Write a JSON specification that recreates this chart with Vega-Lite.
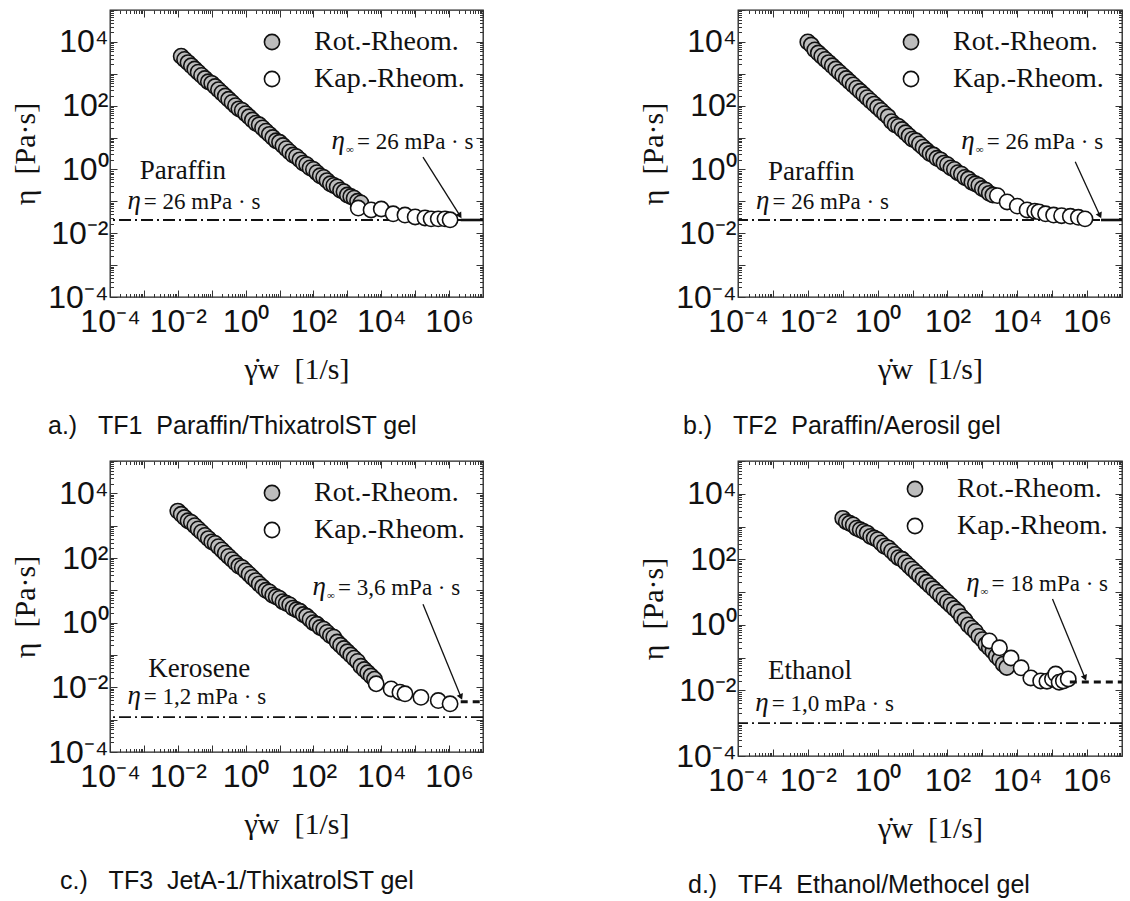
{
"$schema":"https://vega.github.io/schema/vega-lite/v6.json",
"background":"white",
"padding":{"left":10,"top":8,"right":0,"bottom":0},
"datasets":{
"pts":[
{"p":"a","m":"Rot.-Rheom.","x":0.0126,"y":3550},{"p":"a","m":"Rot.-Rheom.","x":0.0158,"y":2820},{"p":"a","m":"Rot.-Rheom.","x":0.02,"y":2240},{"p":"a","m":"Rot.-Rheom.","x":0.0251,"y":1780},{"p":"a","m":"Rot.-Rheom.","x":0.0316,"y":1410},{"p":"a","m":"Rot.-Rheom.","x":0.0398,"y":1120},{"p":"a","m":"Rot.-Rheom.","x":0.0501,"y":891},{"p":"a","m":"Rot.-Rheom.","x":0.0631,"y":708},{"p":"a","m":"Rot.-Rheom.","x":0.0794,"y":562},{"p":"a","m":"Rot.-Rheom.","x":0.1,"y":501},{"p":"a","m":"Rot.-Rheom.","x":0.126,"y":398},{"p":"a","m":"Rot.-Rheom.","x":0.158,"y":316},{"p":"a","m":"Rot.-Rheom.","x":0.2,"y":251},{"p":"a","m":"Rot.-Rheom.","x":0.251,"y":200},{"p":"a","m":"Rot.-Rheom.","x":0.316,"y":158},{"p":"a","m":"Rot.-Rheom.","x":0.398,"y":126},{"p":"a","m":"Rot.-Rheom.","x":0.501,"y":100},{"p":"a","m":"Rot.-Rheom.","x":0.631,"y":79.4},{"p":"a","m":"Rot.-Rheom.","x":0.794,"y":70.8},{"p":"a","m":"Rot.-Rheom.","x":1,"y":56.2},{"p":"a","m":"Rot.-Rheom.","x":1.26,"y":44.7},{"p":"a","m":"Rot.-Rheom.","x":1.58,"y":35.5},{"p":"a","m":"Rot.-Rheom.","x":2,"y":28.2},{"p":"a","m":"Rot.-Rheom.","x":2.51,"y":25.1},{"p":"a","m":"Rot.-Rheom.","x":3.16,"y":20},{"p":"a","m":"Rot.-Rheom.","x":3.98,"y":15.8},{"p":"a","m":"Rot.-Rheom.","x":5.01,"y":12.6},{"p":"a","m":"Rot.-Rheom.","x":6.31,"y":10},{"p":"a","m":"Rot.-Rheom.","x":7.94,"y":7.94},{"p":"a","m":"Rot.-Rheom.","x":10,"y":7.08},{"p":"a","m":"Rot.-Rheom.","x":12.6,"y":5.62},{"p":"a","m":"Rot.-Rheom.","x":15.8,"y":4.47},{"p":"a","m":"Rot.-Rheom.","x":20,"y":3.55},{"p":"a","m":"Rot.-Rheom.","x":25.1,"y":2.82},{"p":"a","m":"Rot.-Rheom.","x":31.6,"y":2.51},{"p":"a","m":"Rot.-Rheom.","x":39.8,"y":2},{"p":"a","m":"Rot.-Rheom.","x":50.1,"y":1.58},{"p":"a","m":"Rot.-Rheom.","x":63.1,"y":1.41},{"p":"a","m":"Rot.-Rheom.","x":79.4,"y":1.12},{"p":"a","m":"Rot.-Rheom.","x":100,"y":1},{"p":"a","m":"Rot.-Rheom.","x":126,"y":0.794},{"p":"a","m":"Rot.-Rheom.","x":158,"y":0.631},{"p":"a","m":"Rot.-Rheom.","x":200,"y":0.562},{"p":"a","m":"Rot.-Rheom.","x":251,"y":0.447},{"p":"a","m":"Rot.-Rheom.","x":316,"y":0.355},{"p":"a","m":"Rot.-Rheom.","x":398,"y":0.316},{"p":"a","m":"Rot.-Rheom.","x":501,"y":0.282},{"p":"a","m":"Rot.-Rheom.","x":631,"y":0.224},{"p":"a","m":"Rot.-Rheom.","x":794,"y":0.2},{"p":"a","m":"Rot.-Rheom.","x":1000,"y":0.158},{"p":"a","m":"Rot.-Rheom.","x":1260,"y":0.141},{"p":"a","m":"Rot.-Rheom.","x":1580,"y":0.126},{"p":"a","m":"Rot.-Rheom.","x":2000,"y":0.1},{"p":"a","m":"Rot.-Rheom.","x":2510,"y":0.0891},
{"p":"a","m":"Kap.-Rheom.","x":2090,"y":0.0617},{"p":"a","m":"Kap.-Rheom.","x":5010,"y":0.0537},{"p":"a","m":"Kap.-Rheom.","x":10000,"y":0.0575},{"p":"a","m":"Kap.-Rheom.","x":22400,"y":0.0407},{"p":"a","m":"Kap.-Rheom.","x":50100,"y":0.0372},{"p":"a","m":"Kap.-Rheom.","x":100000,"y":0.0324},{"p":"a","m":"Kap.-Rheom.","x":195000,"y":0.0302},{"p":"a","m":"Kap.-Rheom.","x":295000,"y":0.0282},{"p":"a","m":"Kap.-Rheom.","x":479000,"y":0.0282},{"p":"a","m":"Kap.-Rheom.","x":759000,"y":0.0282},{"p":"a","m":"Kap.-Rheom.","x":1070000,"y":0.0263},
{"p":"b","m":"Rot.-Rheom.","x":0.01,"y":10000},{"p":"b","m":"Rot.-Rheom.","x":0.0126,"y":7940},{"p":"b","m":"Rot.-Rheom.","x":0.0158,"y":5620},{"p":"b","m":"Rot.-Rheom.","x":0.02,"y":4470},{"p":"b","m":"Rot.-Rheom.","x":0.0251,"y":3550},{"p":"b","m":"Rot.-Rheom.","x":0.0316,"y":2820},{"p":"b","m":"Rot.-Rheom.","x":0.0398,"y":2240},{"p":"b","m":"Rot.-Rheom.","x":0.0501,"y":1780},{"p":"b","m":"Rot.-Rheom.","x":0.0631,"y":1410},{"p":"b","m":"Rot.-Rheom.","x":0.0794,"y":1120},{"p":"b","m":"Rot.-Rheom.","x":0.1,"y":891},{"p":"b","m":"Rot.-Rheom.","x":0.126,"y":708},{"p":"b","m":"Rot.-Rheom.","x":0.158,"y":562},{"p":"b","m":"Rot.-Rheom.","x":0.2,"y":447},{"p":"b","m":"Rot.-Rheom.","x":0.251,"y":355},{"p":"b","m":"Rot.-Rheom.","x":0.316,"y":282},{"p":"b","m":"Rot.-Rheom.","x":0.398,"y":224},{"p":"b","m":"Rot.-Rheom.","x":0.501,"y":178},{"p":"b","m":"Rot.-Rheom.","x":0.631,"y":141},{"p":"b","m":"Rot.-Rheom.","x":0.794,"y":112},{"p":"b","m":"Rot.-Rheom.","x":1,"y":89.1},{"p":"b","m":"Rot.-Rheom.","x":1.26,"y":70.8},{"p":"b","m":"Rot.-Rheom.","x":1.58,"y":56.2},{"p":"b","m":"Rot.-Rheom.","x":2,"y":44.7},{"p":"b","m":"Rot.-Rheom.","x":2.51,"y":31.6},{"p":"b","m":"Rot.-Rheom.","x":3.16,"y":25.1},{"p":"b","m":"Rot.-Rheom.","x":3.98,"y":22.4},{"p":"b","m":"Rot.-Rheom.","x":5.01,"y":17.8},{"p":"b","m":"Rot.-Rheom.","x":6.31,"y":14.1},{"p":"b","m":"Rot.-Rheom.","x":7.94,"y":11.2},{"p":"b","m":"Rot.-Rheom.","x":10,"y":8.91},{"p":"b","m":"Rot.-Rheom.","x":12.6,"y":7.94},{"p":"b","m":"Rot.-Rheom.","x":15.8,"y":6.31},{"p":"b","m":"Rot.-Rheom.","x":20,"y":5.01},{"p":"b","m":"Rot.-Rheom.","x":25.1,"y":3.98},{"p":"b","m":"Rot.-Rheom.","x":31.6,"y":3.16},{"p":"b","m":"Rot.-Rheom.","x":39.8,"y":2.82},{"p":"b","m":"Rot.-Rheom.","x":50.1,"y":2.24},{"p":"b","m":"Rot.-Rheom.","x":63.1,"y":2},{"p":"b","m":"Rot.-Rheom.","x":79.4,"y":1.58},{"p":"b","m":"Rot.-Rheom.","x":100,"y":1.41},{"p":"b","m":"Rot.-Rheom.","x":126,"y":1.12},{"p":"b","m":"Rot.-Rheom.","x":158,"y":1},{"p":"b","m":"Rot.-Rheom.","x":200,"y":0.794},{"p":"b","m":"Rot.-Rheom.","x":251,"y":0.708},{"p":"b","m":"Rot.-Rheom.","x":316,"y":0.562},{"p":"b","m":"Rot.-Rheom.","x":398,"y":0.501},{"p":"b","m":"Rot.-Rheom.","x":501,"y":0.398},{"p":"b","m":"Rot.-Rheom.","x":631,"y":0.355},{"p":"b","m":"Rot.-Rheom.","x":794,"y":0.316},{"p":"b","m":"Rot.-Rheom.","x":1000,"y":0.251},{"p":"b","m":"Rot.-Rheom.","x":1260,"y":0.224},{"p":"b","m":"Rot.-Rheom.","x":1580,"y":0.178},{"p":"b","m":"Rot.-Rheom.","x":2000,"y":0.158},
{"p":"b","m":"Kap.-Rheom.","x":2690,"y":0.151},{"p":"b","m":"Kap.-Rheom.","x":5130,"y":0.0955},{"p":"b","m":"Kap.-Rheom.","x":10000,"y":0.0708},{"p":"b","m":"Kap.-Rheom.","x":19100,"y":0.0537},{"p":"b","m":"Kap.-Rheom.","x":31600,"y":0.049},{"p":"b","m":"Kap.-Rheom.","x":41700,"y":0.0468},{"p":"b","m":"Kap.-Rheom.","x":64600,"y":0.0407},{"p":"b","m":"Kap.-Rheom.","x":110000,"y":0.0372},{"p":"b","m":"Kap.-Rheom.","x":186000,"y":0.0355},{"p":"b","m":"Kap.-Rheom.","x":331000,"y":0.0339},{"p":"b","m":"Kap.-Rheom.","x":562000,"y":0.0316},{"p":"b","m":"Kap.-Rheom.","x":871000,"y":0.0282},
{"p":"c","m":"Rot.-Rheom.","x":0.01,"y":2820},{"p":"c","m":"Rot.-Rheom.","x":0.0126,"y":2240},{"p":"c","m":"Rot.-Rheom.","x":0.0158,"y":1780},{"p":"c","m":"Rot.-Rheom.","x":0.02,"y":1410},{"p":"c","m":"Rot.-Rheom.","x":0.0251,"y":1260},{"p":"c","m":"Rot.-Rheom.","x":0.0316,"y":1000},{"p":"c","m":"Rot.-Rheom.","x":0.0398,"y":794},{"p":"c","m":"Rot.-Rheom.","x":0.0501,"y":631},{"p":"c","m":"Rot.-Rheom.","x":0.0631,"y":501},{"p":"c","m":"Rot.-Rheom.","x":0.0794,"y":398},{"p":"c","m":"Rot.-Rheom.","x":0.1,"y":316},{"p":"c","m":"Rot.-Rheom.","x":0.126,"y":282},{"p":"c","m":"Rot.-Rheom.","x":0.158,"y":224},{"p":"c","m":"Rot.-Rheom.","x":0.2,"y":178},{"p":"c","m":"Rot.-Rheom.","x":0.251,"y":141},{"p":"c","m":"Rot.-Rheom.","x":0.316,"y":112},{"p":"c","m":"Rot.-Rheom.","x":0.398,"y":89.1},{"p":"c","m":"Rot.-Rheom.","x":0.501,"y":70.8},{"p":"c","m":"Rot.-Rheom.","x":0.631,"y":56.2},{"p":"c","m":"Rot.-Rheom.","x":0.794,"y":50.1},{"p":"c","m":"Rot.-Rheom.","x":1,"y":39.8},{"p":"c","m":"Rot.-Rheom.","x":1.26,"y":31.6},{"p":"c","m":"Rot.-Rheom.","x":1.58,"y":25.1},{"p":"c","m":"Rot.-Rheom.","x":2,"y":20},{"p":"c","m":"Rot.-Rheom.","x":2.51,"y":15.8},{"p":"c","m":"Rot.-Rheom.","x":3.16,"y":12.6},{"p":"c","m":"Rot.-Rheom.","x":3.98,"y":10},{"p":"c","m":"Rot.-Rheom.","x":5.01,"y":8.91},{"p":"c","m":"Rot.-Rheom.","x":6.31,"y":7.08},{"p":"c","m":"Rot.-Rheom.","x":7.94,"y":6.31},{"p":"c","m":"Rot.-Rheom.","x":10,"y":5.62},{"p":"c","m":"Rot.-Rheom.","x":12.6,"y":4.47},{"p":"c","m":"Rot.-Rheom.","x":15.8,"y":3.98},{"p":"c","m":"Rot.-Rheom.","x":20,"y":3.55},{"p":"c","m":"Rot.-Rheom.","x":25.1,"y":2.82},{"p":"c","m":"Rot.-Rheom.","x":31.6,"y":2.51},{"p":"c","m":"Rot.-Rheom.","x":39.8,"y":2.24},{"p":"c","m":"Rot.-Rheom.","x":50.1,"y":1.78},{"p":"c","m":"Rot.-Rheom.","x":63.1,"y":1.58},{"p":"c","m":"Rot.-Rheom.","x":79.4,"y":1.26},{"p":"c","m":"Rot.-Rheom.","x":100,"y":1},{"p":"c","m":"Rot.-Rheom.","x":126,"y":0.891},{"p":"c","m":"Rot.-Rheom.","x":158,"y":0.708},{"p":"c","m":"Rot.-Rheom.","x":200,"y":0.631},{"p":"c","m":"Rot.-Rheom.","x":251,"y":0.501},{"p":"c","m":"Rot.-Rheom.","x":316,"y":0.398},{"p":"c","m":"Rot.-Rheom.","x":398,"y":0.355},{"p":"c","m":"Rot.-Rheom.","x":501,"y":0.251},{"p":"c","m":"Rot.-Rheom.","x":631,"y":0.2},{"p":"c","m":"Rot.-Rheom.","x":794,"y":0.158},{"p":"c","m":"Rot.-Rheom.","x":1000,"y":0.126},{"p":"c","m":"Rot.-Rheom.","x":1260,"y":0.1},{"p":"c","m":"Rot.-Rheom.","x":1580,"y":0.0794},{"p":"c","m":"Rot.-Rheom.","x":2000,"y":0.0631},{"p":"c","m":"Rot.-Rheom.","x":2510,"y":0.0447},{"p":"c","m":"Rot.-Rheom.","x":3160,"y":0.0355},{"p":"c","m":"Rot.-Rheom.","x":3980,"y":0.0282},{"p":"c","m":"Rot.-Rheom.","x":5010,"y":0.0224},{"p":"c","m":"Rot.-Rheom.","x":6310,"y":0.0178},
{"p":"c","m":"Kap.-Rheom.","x":7080,"y":0.0129},{"p":"c","m":"Kap.-Rheom.","x":19500,"y":0.00891},{"p":"c","m":"Kap.-Rheom.","x":35500,"y":0.00708},{"p":"c","m":"Kap.-Rheom.","x":50100,"y":0.00631},{"p":"c","m":"Kap.-Rheom.","x":148000,"y":0.0049},{"p":"c","m":"Kap.-Rheom.","x":479000,"y":0.00389},{"p":"c","m":"Kap.-Rheom.","x":1070000,"y":0.00309},
{"p":"d","m":"Rot.-Rheom.","x":0.1,"y":1780},{"p":"d","m":"Rot.-Rheom.","x":0.126,"y":1410},{"p":"d","m":"Rot.-Rheom.","x":0.158,"y":1260},{"p":"d","m":"Rot.-Rheom.","x":0.2,"y":1120},{"p":"d","m":"Rot.-Rheom.","x":0.251,"y":891},{"p":"d","m":"Rot.-Rheom.","x":0.316,"y":794},{"p":"d","m":"Rot.-Rheom.","x":0.398,"y":708},{"p":"d","m":"Rot.-Rheom.","x":0.501,"y":631},{"p":"d","m":"Rot.-Rheom.","x":0.631,"y":501},{"p":"d","m":"Rot.-Rheom.","x":0.794,"y":447},{"p":"d","m":"Rot.-Rheom.","x":1,"y":398},{"p":"d","m":"Rot.-Rheom.","x":1.26,"y":316},{"p":"d","m":"Rot.-Rheom.","x":1.58,"y":251},{"p":"d","m":"Rot.-Rheom.","x":2,"y":224},{"p":"d","m":"Rot.-Rheom.","x":2.51,"y":178},{"p":"d","m":"Rot.-Rheom.","x":3.16,"y":141},{"p":"d","m":"Rot.-Rheom.","x":3.98,"y":112},{"p":"d","m":"Rot.-Rheom.","x":5.01,"y":100},{"p":"d","m":"Rot.-Rheom.","x":6.31,"y":79.4},{"p":"d","m":"Rot.-Rheom.","x":7.94,"y":63.1},{"p":"d","m":"Rot.-Rheom.","x":10,"y":50.1},{"p":"d","m":"Rot.-Rheom.","x":12.6,"y":39.8},{"p":"d","m":"Rot.-Rheom.","x":15.8,"y":31.6},{"p":"d","m":"Rot.-Rheom.","x":20,"y":25.1},{"p":"d","m":"Rot.-Rheom.","x":25.1,"y":20},{"p":"d","m":"Rot.-Rheom.","x":31.6,"y":15.8},{"p":"d","m":"Rot.-Rheom.","x":39.8,"y":12.6},{"p":"d","m":"Rot.-Rheom.","x":50.1,"y":10},{"p":"d","m":"Rot.-Rheom.","x":63.1,"y":7.94},{"p":"d","m":"Rot.-Rheom.","x":79.4,"y":6.31},{"p":"d","m":"Rot.-Rheom.","x":100,"y":5.01},{"p":"d","m":"Rot.-Rheom.","x":126,"y":3.98},{"p":"d","m":"Rot.-Rheom.","x":158,"y":3.16},{"p":"d","m":"Rot.-Rheom.","x":200,"y":2.51},{"p":"d","m":"Rot.-Rheom.","x":251,"y":1.78},{"p":"d","m":"Rot.-Rheom.","x":316,"y":1.41},{"p":"d","m":"Rot.-Rheom.","x":398,"y":1},{"p":"d","m":"Rot.-Rheom.","x":501,"y":0.794},{"p":"d","m":"Rot.-Rheom.","x":631,"y":0.631},{"p":"d","m":"Rot.-Rheom.","x":794,"y":0.447},{"p":"d","m":"Rot.-Rheom.","x":1000,"y":0.355},{"p":"d","m":"Rot.-Rheom.","x":1260,"y":0.251},{"p":"d","m":"Rot.-Rheom.","x":1580,"y":0.2},{"p":"d","m":"Rot.-Rheom.","x":2000,"y":0.158},{"p":"d","m":"Rot.-Rheom.","x":2510,"y":0.112},{"p":"d","m":"Rot.-Rheom.","x":3160,"y":0.0891},{"p":"d","m":"Rot.-Rheom.","x":3980,"y":0.0631},{"p":"d","m":"Rot.-Rheom.","x":5010,"y":0.0501},
{"p":"d","m":"Kap.-Rheom.","x":1580,"y":0.324},{"p":"d","m":"Kap.-Rheom.","x":3090,"y":0.2},{"p":"d","m":"Kap.-Rheom.","x":6610,"y":0.0977},{"p":"d","m":"Kap.-Rheom.","x":12900,"y":0.049},{"p":"d","m":"Kap.-Rheom.","x":24500,"y":0.024},{"p":"d","m":"Kap.-Rheom.","x":46800,"y":0.0195},{"p":"d","m":"Kap.-Rheom.","x":70800,"y":0.0191},{"p":"d","m":"Kap.-Rheom.","x":102000,"y":0.0224},{"p":"d","m":"Kap.-Rheom.","x":126000,"y":0.0316},{"p":"d","m":"Kap.-Rheom.","x":158000,"y":0.0178},{"p":"d","m":"Kap.-Rheom.","x":209000,"y":0.0195},{"p":"d","m":"Kap.-Rheom.","x":288000,"y":0.0224}
],
"ref":[{"p":"a","eta":0.026},{"p":"b","eta":0.026},{"p":"c","eta":0.0012},{"p":"d","eta":0.001}],
"inf":[{"p":"a","x":2200000,"x2":10000000,"eta":0.026},{"p":"b","x":2500000,"x2":10000000,"eta":0.026},{"p":"c","x":2200000,"x2":10000000,"eta":0.0036},{"p":"d","x":320000,"x2":10000000,"eta":0.018}],
"arr":[{"p":"a","x":170000,"y":2.45,"x2":2090000,"y2":0.0355},{"p":"b","x":457000,"y":1.74,"x2":2340000,"y2":0.0355},{"p":"c","x":170000,"y":3.72,"x2":2240000,"y2":0.00501},{"p":"d","x":102000,"y":6.17,"x2":871000,"y2":0.024}],
"ann":[
{"p":"a","k":"name","x":0.0141,"y":0.501,"t":"Paraffin"},{"p":"a","k":"eta","x":0.000813,"y":0.0575,"t":"= 26 mPa · s"},{"p":"a","k":"inf","x":851,"y":4.37,"t":"= 26 mPa · s"},
{"p":"b","k":"name","x":0.0126,"y":0.468,"t":"Paraffin"},{"p":"b","k":"eta","x":0.000794,"y":0.0575,"t":"= 26 mPa · s"},{"p":"b","k":"inf","x":603,"y":4.37,"t":"= 26 mPa · s"},
{"p":"c","k":"name","x":0.0427,"y":0.0204,"t":"Kerosene"},{"p":"c","k":"eta","x":0.000813,"y":0.00302,"t":"= 1,2 mPa · s"},{"p":"c","k":"inf","x":234,"y":7.08,"t":"= 3,6 mPa · s"},
{"p":"d","k":"name","x":0.0115,"y":0.0224,"t":"Ethanol"},{"p":"d","k":"eta","x":0.000759,"y":0.0024,"t":"= 1,0 mPa · s"},{"p":"d","k":"inf","x":832,"y":11,"t":"= 18 mPa · s"}
]
},
"columns":2,
"spacing":{"row":164,"column":255},
"bounds":"flush",
"align":"each",
"resolve":{"scale":{"fill":"independent"},"legend":{"fill":"independent"}},
"concat":[
{"width":373,"height":287,
"title":{"text":"a.)\u00a0\u00a0\u00a0TF1\u00a0\u00a0Paraffin/ThixatrolST gel","orient":"bottom","anchor":"start","frame":"group","dx":-62,"offset":30,"font":"Liberation Sans, sans-serif","fontSize":25,"fontWeight":"normal","color":"#111"},
"resolve":{"axis":{"x":"independent","y":"independent"}},
"layer":[
{"data":{"name":"ref"},"transform":[{"filter":"datum.p == 'a'"}],"mark":{"type":"rule","strokeDash":[12,4,2,4],"strokeWidth":1.8,"color":"#111"},"encoding":{"y":{"field":"eta","type":"quantitative","scale":{"type":"log","domain":[0.0001,100000],"nice":false},"axis":{"orient":"left","values":[0.0001,0.0002,0.0003,0.0004,0.0005,0.0006,0.0007,0.0008,0.0009,0.001,0.002,0.003,0.004,0.005,0.006,0.007,0.008,0.009,0.01,0.02,0.03,0.04,0.05,0.06,0.07,0.08,0.09,0.1,0.2,0.3,0.4,0.5,0.6,0.7,0.8,0.9,1,2,3,4,5,6,7,8,9,10,20,30,40,50,60,70,80,90,100,200,300,400,500,600,700,800,900,1000,2000,3000,4000,5000,6000,7000,8000,9000,10000,20000,30000,40000,50000,60000,70000,80000,90000,100000],"labelExpr":"datum.value == 0.0001 ? '10⁻⁴' : datum.value == 0.01 ? '10⁻²' : datum.value == 1 ? '10⁰' : datum.value == 100 ? '10²' : datum.value == 10000 ? '10⁴' : datum.value == 1000000 ? '10⁶' : ''","labelFontSize":{"condition":{"test":"datum.value == 0.0001 || datum.value == 0.01 || datum.value == 1 || datum.value == 100 || datum.value == 10000 || datum.value == 1000000","value":32},"value":1},"tickSize":{"condition":{"test":"abs(log(datum.value)/LN10 - round(log(datum.value)/LN10)) < 0.001","value":-7},"value":-3.5},"labelPadding":9,"title":"η\u00a0\u00a0[Pa·s]","titlePadding":7}}}},
{"data":{"name":"pts"},"transform":[{"filter":"datum.p == 'a'"}],"mark":{"type":"point","filled":true,"stroke":"#111","strokeWidth":1.6,"size":235,"opacity":1},"encoding":{"x":{"field":"x","type":"quantitative","scale":{"type":"log","domain":[0.0001,10000000],"nice":false},"axis":{"orient":"bottom","values":[0.0001,0.0002,0.0003,0.0004,0.0005,0.0006,0.0007,0.0008,0.0009,0.001,0.002,0.003,0.004,0.005,0.006,0.007,0.008,0.009,0.01,0.02,0.03,0.04,0.05,0.06,0.07,0.08,0.09,0.1,0.2,0.3,0.4,0.5,0.6,0.7,0.8,0.9,1,2,3,4,5,6,7,8,9,10,20,30,40,50,60,70,80,90,100,200,300,400,500,600,700,800,900,1000,2000,3000,4000,5000,6000,7000,8000,9000,10000,20000,30000,40000,50000,60000,70000,80000,90000,100000,200000,300000,400000,500000,600000,700000,800000,900000,1000000,2000000,3000000,4000000,5000000,6000000,7000000,8000000,9000000,10000000],"labelExpr":"datum.value == 0.0001 ? '10⁻⁴' : datum.value == 0.01 ? '10⁻²' : datum.value == 1 ? '10⁰' : datum.value == 100 ? '10²' : datum.value == 10000 ? '10⁴' : datum.value == 1000000 ? '10⁶' : ''","labelFontSize":{"condition":{"test":"datum.value == 0.0001 || datum.value == 0.01 || datum.value == 1 || datum.value == 100 || datum.value == 10000 || datum.value == 1000000","value":32},"value":1},"tickSize":{"condition":{"test":"abs(log(datum.value)/LN10 - round(log(datum.value)/LN10)) < 0.001","value":-7},"value":-3.5},"labelPadding":16,"title":"γ\u0307w\u00a0\u00a0[1/s]","titlePadding":17}},"y":{"field":"y","type":"quantitative","scale":{"type":"log","domain":[0.0001,100000],"nice":false},"axis":null},"fill":{"field":"m","type":"nominal","scale":{"domain":["Rot.-Rheom.","Kap.-Rheom."],"range":["#bdbdbd","#ffffff"]},"legend":{"orient":"top-right","offset":18}}}},
{"data":{"name":"inf"},"transform":[{"filter":"datum.p == 'a'"}],"mark":{"type":"rule","strokeWidth":2.6,"color":"#111"},"encoding":{"x":{"field":"x","type":"quantitative","scale":{"type":"log","domain":[0.0001,10000000],"nice":false},"axis":{"orient":"top","values":[0.0001,0.0002,0.0003,0.0004,0.0005,0.0006,0.0007,0.0008,0.0009,0.001,0.002,0.003,0.004,0.005,0.006,0.007,0.008,0.009,0.01,0.02,0.03,0.04,0.05,0.06,0.07,0.08,0.09,0.1,0.2,0.3,0.4,0.5,0.6,0.7,0.8,0.9,1,2,3,4,5,6,7,8,9,10,20,30,40,50,60,70,80,90,100,200,300,400,500,600,700,800,900,1000,2000,3000,4000,5000,6000,7000,8000,9000,10000,20000,30000,40000,50000,60000,70000,80000,90000,100000,200000,300000,400000,500000,600000,700000,800000,900000,1000000,2000000,3000000,4000000,5000000,6000000,7000000,8000000,9000000,10000000],"labels":false,"tickSize":{"condition":{"test":"abs(log(datum.value)/LN10 - round(log(datum.value)/LN10)) < 0.001","value":-7},"value":-3.5},"title":null}},"x2":{"field":"x2"},"y":{"field":"eta","type":"quantitative","scale":{"type":"log","domain":[0.0001,100000],"nice":false},"axis":null}}},
{"data":{"name":"arr"},"transform":[{"filter":"datum.p == 'a'"}],"mark":{"type":"rule","strokeWidth":1.3,"color":"#111"},"encoding":{"x":{"field":"x","type":"quantitative","scale":{"type":"log","domain":[0.0001,10000000],"nice":false},"axis":null},"x2":{"field":"x2"},"y":{"field":"y","type":"quantitative","scale":{"type":"log","domain":[0.0001,100000],"nice":false},"axis":{"orient":"right","values":[0.0001,0.0002,0.0003,0.0004,0.0005,0.0006,0.0007,0.0008,0.0009,0.001,0.002,0.003,0.004,0.005,0.006,0.007,0.008,0.009,0.01,0.02,0.03,0.04,0.05,0.06,0.07,0.08,0.09,0.1,0.2,0.3,0.4,0.5,0.6,0.7,0.8,0.9,1,2,3,4,5,6,7,8,9,10,20,30,40,50,60,70,80,90,100,200,300,400,500,600,700,800,900,1000,2000,3000,4000,5000,6000,7000,8000,9000,10000,20000,30000,40000,50000,60000,70000,80000,90000,100000],"labels":false,"tickSize":{"condition":{"test":"abs(log(datum.value)/LN10 - round(log(datum.value)/LN10)) < 0.001","value":-7},"value":-3.5},"title":null}},"y2":{"field":"y2"}}},
{"data":{"name":"arr"},"transform":[{"filter":"datum.p == 'a'"}],"mark":{"type":"point","shape":"triangle-down","filled":true,"color":"#111","size":45,"angle":327.5,"opacity":1},"encoding":{"x":{"field":"x2","type":"quantitative","scale":{"type":"log","domain":[0.0001,10000000],"nice":false},"axis":null},"y":{"field":"y2","type":"quantitative","scale":{"type":"log","domain":[0.0001,100000],"nice":false},"axis":null}}},
{"data":{"name":"ann"},"transform":[{"filter":"datum.p == 'a' && datum.k == 'name'"}],"mark":{"type":"text","font":"Liberation Serif","fontSize":27,"align":"center","baseline":"alphabetic","color":"#111"},"encoding":{"x":{"field":"x","type":"quantitative","scale":{"type":"log","domain":[0.0001,10000000],"nice":false},"axis":null},"y":{"field":"y","type":"quantitative","scale":{"type":"log","domain":[0.0001,100000],"nice":false},"axis":null},"text":{"field":"t"}}},
{"data":{"name":"ann"},"transform":[{"filter":"datum.p == 'a' && datum.k != 'name'"}],"mark":{"type":"text","text":"η","font":"Liberation Serif","fontStyle":"italic","fontSize":27,"align":"right","baseline":"alphabetic","color":"#111"},"encoding":{"x":{"field":"x","type":"quantitative","scale":{"type":"log","domain":[0.0001,10000000],"nice":false},"axis":null},"y":{"field":"y","type":"quantitative","scale":{"type":"log","domain":[0.0001,100000],"nice":false},"axis":null}}},
{"data":{"name":"ann"},"transform":[{"filter":"datum.p == 'a' && datum.k == 'inf'"}],"mark":{"type":"text","text":"∞","font":"Liberation Serif","fontSize":11,"align":"left","baseline":"alphabetic","dx":1,"dy":4,"color":"#111"},"encoding":{"x":{"field":"x","type":"quantitative","scale":{"type":"log","domain":[0.0001,10000000],"nice":false},"axis":null},"y":{"field":"y","type":"quantitative","scale":{"type":"log","domain":[0.0001,100000],"nice":false},"axis":null}}},
{"data":{"name":"ann"},"transform":[{"filter":"datum.p == 'a' && datum.k == 'inf'"}],"mark":{"type":"text","font":"Liberation Serif","fontSize":23,"align":"left","baseline":"alphabetic","dx":12,"color":"#111"},"encoding":{"x":{"field":"x","type":"quantitative","scale":{"type":"log","domain":[0.0001,10000000],"nice":false},"axis":null},"y":{"field":"y","type":"quantitative","scale":{"type":"log","domain":[0.0001,100000],"nice":false},"axis":null},"text":{"field":"t"}}},
{"data":{"name":"ann"},"transform":[{"filter":"datum.p == 'a' && datum.k == 'eta'"}],"mark":{"type":"text","font":"Liberation Serif","fontSize":23,"align":"left","baseline":"alphabetic","dx":3,"color":"#111"},"encoding":{"x":{"field":"x","type":"quantitative","scale":{"type":"log","domain":[0.0001,10000000],"nice":false},"axis":null},"y":{"field":"y","type":"quantitative","scale":{"type":"log","domain":[0.0001,100000],"nice":false},"axis":null},"text":{"field":"t"}}}
]},
{"width":384,"height":287,
"title":{"text":"b.)\u00a0\u00a0\u00a0TF2\u00a0\u00a0Paraffin/Aerosil gel","orient":"bottom","anchor":"start","frame":"group","dx":-55,"offset":30,"font":"Liberation Sans, sans-serif","fontSize":25,"fontWeight":"normal","color":"#111"},
"resolve":{"axis":{"x":"independent","y":"independent"}},
"layer":[
{"data":{"name":"ref"},"transform":[{"filter":"datum.p == 'b'"}],"mark":{"type":"rule","strokeDash":[12,4,2,4],"strokeWidth":1.8,"color":"#111"},"encoding":{"y":{"field":"eta","type":"quantitative","scale":{"type":"log","domain":[0.0001,100000],"nice":false},"axis":{"orient":"left","values":[0.0001,0.0002,0.0003,0.0004,0.0005,0.0006,0.0007,0.0008,0.0009,0.001,0.002,0.003,0.004,0.005,0.006,0.007,0.008,0.009,0.01,0.02,0.03,0.04,0.05,0.06,0.07,0.08,0.09,0.1,0.2,0.3,0.4,0.5,0.6,0.7,0.8,0.9,1,2,3,4,5,6,7,8,9,10,20,30,40,50,60,70,80,90,100,200,300,400,500,600,700,800,900,1000,2000,3000,4000,5000,6000,7000,8000,9000,10000,20000,30000,40000,50000,60000,70000,80000,90000,100000],"labelExpr":"datum.value == 0.0001 ? '10⁻⁴' : datum.value == 0.01 ? '10⁻²' : datum.value == 1 ? '10⁰' : datum.value == 100 ? '10²' : datum.value == 10000 ? '10⁴' : datum.value == 1000000 ? '10⁶' : ''","labelFontSize":{"condition":{"test":"datum.value == 0.0001 || datum.value == 0.01 || datum.value == 1 || datum.value == 100 || datum.value == 10000 || datum.value == 1000000","value":32},"value":1},"tickSize":{"condition":{"test":"abs(log(datum.value)/LN10 - round(log(datum.value)/LN10)) < 0.001","value":-7},"value":-3.5},"labelPadding":9,"title":"η\u00a0\u00a0[Pa·s]","titlePadding":7}}}},
{"data":{"name":"pts"},"transform":[{"filter":"datum.p == 'b'"}],"mark":{"type":"point","filled":true,"stroke":"#111","strokeWidth":1.6,"size":235,"opacity":1},"encoding":{"x":{"field":"x","type":"quantitative","scale":{"type":"log","domain":[0.0001,10000000],"nice":false},"axis":{"orient":"bottom","values":[0.0001,0.0002,0.0003,0.0004,0.0005,0.0006,0.0007,0.0008,0.0009,0.001,0.002,0.003,0.004,0.005,0.006,0.007,0.008,0.009,0.01,0.02,0.03,0.04,0.05,0.06,0.07,0.08,0.09,0.1,0.2,0.3,0.4,0.5,0.6,0.7,0.8,0.9,1,2,3,4,5,6,7,8,9,10,20,30,40,50,60,70,80,90,100,200,300,400,500,600,700,800,900,1000,2000,3000,4000,5000,6000,7000,8000,9000,10000,20000,30000,40000,50000,60000,70000,80000,90000,100000,200000,300000,400000,500000,600000,700000,800000,900000,1000000,2000000,3000000,4000000,5000000,6000000,7000000,8000000,9000000,10000000],"labelExpr":"datum.value == 0.0001 ? '10⁻⁴' : datum.value == 0.01 ? '10⁻²' : datum.value == 1 ? '10⁰' : datum.value == 100 ? '10²' : datum.value == 10000 ? '10⁴' : datum.value == 1000000 ? '10⁶' : ''","labelFontSize":{"condition":{"test":"datum.value == 0.0001 || datum.value == 0.01 || datum.value == 1 || datum.value == 100 || datum.value == 10000 || datum.value == 1000000","value":32},"value":1},"tickSize":{"condition":{"test":"abs(log(datum.value)/LN10 - round(log(datum.value)/LN10)) < 0.001","value":-7},"value":-3.5},"labelPadding":16,"title":"γ\u0307w\u00a0\u00a0[1/s]","titlePadding":17}},"y":{"field":"y","type":"quantitative","scale":{"type":"log","domain":[0.0001,100000],"nice":false},"axis":null},"fill":{"field":"m","type":"nominal","scale":{"domain":["Rot.-Rheom.","Kap.-Rheom."],"range":["#bdbdbd","#ffffff"]},"legend":{"orient":"top-right","offset":18}}}},
{"data":{"name":"inf"},"transform":[{"filter":"datum.p == 'b'"}],"mark":{"type":"rule","strokeWidth":2.6,"color":"#111"},"encoding":{"x":{"field":"x","type":"quantitative","scale":{"type":"log","domain":[0.0001,10000000],"nice":false},"axis":{"orient":"top","values":[0.0001,0.0002,0.0003,0.0004,0.0005,0.0006,0.0007,0.0008,0.0009,0.001,0.002,0.003,0.004,0.005,0.006,0.007,0.008,0.009,0.01,0.02,0.03,0.04,0.05,0.06,0.07,0.08,0.09,0.1,0.2,0.3,0.4,0.5,0.6,0.7,0.8,0.9,1,2,3,4,5,6,7,8,9,10,20,30,40,50,60,70,80,90,100,200,300,400,500,600,700,800,900,1000,2000,3000,4000,5000,6000,7000,8000,9000,10000,20000,30000,40000,50000,60000,70000,80000,90000,100000,200000,300000,400000,500000,600000,700000,800000,900000,1000000,2000000,3000000,4000000,5000000,6000000,7000000,8000000,9000000,10000000],"labels":false,"tickSize":{"condition":{"test":"abs(log(datum.value)/LN10 - round(log(datum.value)/LN10)) < 0.001","value":-7},"value":-3.5},"title":null}},"x2":{"field":"x2"},"y":{"field":"eta","type":"quantitative","scale":{"type":"log","domain":[0.0001,100000],"nice":false},"axis":null}}},
{"data":{"name":"arr"},"transform":[{"filter":"datum.p == 'b'"}],"mark":{"type":"rule","strokeWidth":1.3,"color":"#111"},"encoding":{"x":{"field":"x","type":"quantitative","scale":{"type":"log","domain":[0.0001,10000000],"nice":false},"axis":null},"x2":{"field":"x2"},"y":{"field":"y","type":"quantitative","scale":{"type":"log","domain":[0.0001,100000],"nice":false},"axis":{"orient":"right","values":[0.0001,0.0002,0.0003,0.0004,0.0005,0.0006,0.0007,0.0008,0.0009,0.001,0.002,0.003,0.004,0.005,0.006,0.007,0.008,0.009,0.01,0.02,0.03,0.04,0.05,0.06,0.07,0.08,0.09,0.1,0.2,0.3,0.4,0.5,0.6,0.7,0.8,0.9,1,2,3,4,5,6,7,8,9,10,20,30,40,50,60,70,80,90,100,200,300,400,500,600,700,800,900,1000,2000,3000,4000,5000,6000,7000,8000,9000,10000,20000,30000,40000,50000,60000,70000,80000,90000,100000],"labels":false,"tickSize":{"condition":{"test":"abs(log(datum.value)/LN10 - round(log(datum.value)/LN10)) < 0.001","value":-7},"value":-3.5},"title":null}},"y2":{"field":"y2"}}},
{"data":{"name":"arr"},"transform":[{"filter":"datum.p == 'b'"}],"mark":{"type":"point","shape":"triangle-down","filled":true,"color":"#111","size":45,"angle":334.7,"opacity":1},"encoding":{"x":{"field":"x2","type":"quantitative","scale":{"type":"log","domain":[0.0001,10000000],"nice":false},"axis":null},"y":{"field":"y2","type":"quantitative","scale":{"type":"log","domain":[0.0001,100000],"nice":false},"axis":null}}},
{"data":{"name":"ann"},"transform":[{"filter":"datum.p == 'b' && datum.k == 'name'"}],"mark":{"type":"text","font":"Liberation Serif","fontSize":27,"align":"center","baseline":"alphabetic","color":"#111"},"encoding":{"x":{"field":"x","type":"quantitative","scale":{"type":"log","domain":[0.0001,10000000],"nice":false},"axis":null},"y":{"field":"y","type":"quantitative","scale":{"type":"log","domain":[0.0001,100000],"nice":false},"axis":null},"text":{"field":"t"}}},
{"data":{"name":"ann"},"transform":[{"filter":"datum.p == 'b' && datum.k != 'name'"}],"mark":{"type":"text","text":"η","font":"Liberation Serif","fontStyle":"italic","fontSize":27,"align":"right","baseline":"alphabetic","color":"#111"},"encoding":{"x":{"field":"x","type":"quantitative","scale":{"type":"log","domain":[0.0001,10000000],"nice":false},"axis":null},"y":{"field":"y","type":"quantitative","scale":{"type":"log","domain":[0.0001,100000],"nice":false},"axis":null}}},
{"data":{"name":"ann"},"transform":[{"filter":"datum.p == 'b' && datum.k == 'inf'"}],"mark":{"type":"text","text":"∞","font":"Liberation Serif","fontSize":11,"align":"left","baseline":"alphabetic","dx":1,"dy":4,"color":"#111"},"encoding":{"x":{"field":"x","type":"quantitative","scale":{"type":"log","domain":[0.0001,10000000],"nice":false},"axis":null},"y":{"field":"y","type":"quantitative","scale":{"type":"log","domain":[0.0001,100000],"nice":false},"axis":null}}},
{"data":{"name":"ann"},"transform":[{"filter":"datum.p == 'b' && datum.k == 'inf'"}],"mark":{"type":"text","font":"Liberation Serif","fontSize":23,"align":"left","baseline":"alphabetic","dx":12,"color":"#111"},"encoding":{"x":{"field":"x","type":"quantitative","scale":{"type":"log","domain":[0.0001,10000000],"nice":false},"axis":null},"y":{"field":"y","type":"quantitative","scale":{"type":"log","domain":[0.0001,100000],"nice":false},"axis":null},"text":{"field":"t"}}},
{"data":{"name":"ann"},"transform":[{"filter":"datum.p == 'b' && datum.k == 'eta'"}],"mark":{"type":"text","font":"Liberation Serif","fontSize":23,"align":"left","baseline":"alphabetic","dx":3,"color":"#111"},"encoding":{"x":{"field":"x","type":"quantitative","scale":{"type":"log","domain":[0.0001,10000000],"nice":false},"axis":null},"y":{"field":"y","type":"quantitative","scale":{"type":"log","domain":[0.0001,100000],"nice":false},"axis":null},"text":{"field":"t"}}}
]},
{"width":373,"height":291,
"title":{"text":"c.)\u00a0\u00a0\u00a0TF3\u00a0\u00a0JetA-1/ThixatrolST gel","orient":"bottom","anchor":"start","frame":"group","dx":-50,"offset":30,"font":"Liberation Sans, sans-serif","fontSize":25,"fontWeight":"normal","color":"#111"},
"resolve":{"axis":{"x":"independent","y":"independent"}},
"layer":[
{"data":{"name":"ref"},"transform":[{"filter":"datum.p == 'c'"}],"mark":{"type":"rule","strokeDash":[12,4,2,4],"strokeWidth":1.8,"color":"#111"},"encoding":{"y":{"field":"eta","type":"quantitative","scale":{"type":"log","domain":[0.0001,100000],"nice":false},"axis":{"orient":"left","values":[0.0001,0.0002,0.0003,0.0004,0.0005,0.0006,0.0007,0.0008,0.0009,0.001,0.002,0.003,0.004,0.005,0.006,0.007,0.008,0.009,0.01,0.02,0.03,0.04,0.05,0.06,0.07,0.08,0.09,0.1,0.2,0.3,0.4,0.5,0.6,0.7,0.8,0.9,1,2,3,4,5,6,7,8,9,10,20,30,40,50,60,70,80,90,100,200,300,400,500,600,700,800,900,1000,2000,3000,4000,5000,6000,7000,8000,9000,10000,20000,30000,40000,50000,60000,70000,80000,90000,100000],"labelExpr":"datum.value == 0.0001 ? '10⁻⁴' : datum.value == 0.01 ? '10⁻²' : datum.value == 1 ? '10⁰' : datum.value == 100 ? '10²' : datum.value == 10000 ? '10⁴' : datum.value == 1000000 ? '10⁶' : ''","labelFontSize":{"condition":{"test":"datum.value == 0.0001 || datum.value == 0.01 || datum.value == 1 || datum.value == 100 || datum.value == 10000 || datum.value == 1000000","value":32},"value":1},"tickSize":{"condition":{"test":"abs(log(datum.value)/LN10 - round(log(datum.value)/LN10)) < 0.001","value":-7},"value":-3.5},"labelPadding":9,"title":"η\u00a0\u00a0[Pa·s]","titlePadding":7}}}},
{"data":{"name":"pts"},"transform":[{"filter":"datum.p == 'c'"}],"mark":{"type":"point","filled":true,"stroke":"#111","strokeWidth":1.6,"size":235,"opacity":1},"encoding":{"x":{"field":"x","type":"quantitative","scale":{"type":"log","domain":[0.0001,10000000],"nice":false},"axis":{"orient":"bottom","values":[0.0001,0.0002,0.0003,0.0004,0.0005,0.0006,0.0007,0.0008,0.0009,0.001,0.002,0.003,0.004,0.005,0.006,0.007,0.008,0.009,0.01,0.02,0.03,0.04,0.05,0.06,0.07,0.08,0.09,0.1,0.2,0.3,0.4,0.5,0.6,0.7,0.8,0.9,1,2,3,4,5,6,7,8,9,10,20,30,40,50,60,70,80,90,100,200,300,400,500,600,700,800,900,1000,2000,3000,4000,5000,6000,7000,8000,9000,10000,20000,30000,40000,50000,60000,70000,80000,90000,100000,200000,300000,400000,500000,600000,700000,800000,900000,1000000,2000000,3000000,4000000,5000000,6000000,7000000,8000000,9000000,10000000],"labelExpr":"datum.value == 0.0001 ? '10⁻⁴' : datum.value == 0.01 ? '10⁻²' : datum.value == 1 ? '10⁰' : datum.value == 100 ? '10²' : datum.value == 10000 ? '10⁴' : datum.value == 1000000 ? '10⁶' : ''","labelFontSize":{"condition":{"test":"datum.value == 0.0001 || datum.value == 0.01 || datum.value == 1 || datum.value == 100 || datum.value == 10000 || datum.value == 1000000","value":32},"value":1},"tickSize":{"condition":{"test":"abs(log(datum.value)/LN10 - round(log(datum.value)/LN10)) < 0.001","value":-7},"value":-3.5},"labelPadding":16,"title":"γ\u0307w\u00a0\u00a0[1/s]","titlePadding":17}},"y":{"field":"y","type":"quantitative","scale":{"type":"log","domain":[0.0001,100000],"nice":false},"axis":null},"fill":{"field":"m","type":"nominal","scale":{"domain":["Rot.-Rheom.","Kap.-Rheom."],"range":["#bdbdbd","#ffffff"]},"legend":{"orient":"top-right","offset":18}}}},
{"data":{"name":"inf"},"transform":[{"filter":"datum.p == 'c'"}],"mark":{"type":"rule","strokeWidth":3,"strokeDash":[7,5],"color":"#111"},"encoding":{"x":{"field":"x","type":"quantitative","scale":{"type":"log","domain":[0.0001,10000000],"nice":false},"axis":{"orient":"top","values":[0.0001,0.0002,0.0003,0.0004,0.0005,0.0006,0.0007,0.0008,0.0009,0.001,0.002,0.003,0.004,0.005,0.006,0.007,0.008,0.009,0.01,0.02,0.03,0.04,0.05,0.06,0.07,0.08,0.09,0.1,0.2,0.3,0.4,0.5,0.6,0.7,0.8,0.9,1,2,3,4,5,6,7,8,9,10,20,30,40,50,60,70,80,90,100,200,300,400,500,600,700,800,900,1000,2000,3000,4000,5000,6000,7000,8000,9000,10000,20000,30000,40000,50000,60000,70000,80000,90000,100000,200000,300000,400000,500000,600000,700000,800000,900000,1000000,2000000,3000000,4000000,5000000,6000000,7000000,8000000,9000000,10000000],"labels":false,"tickSize":{"condition":{"test":"abs(log(datum.value)/LN10 - round(log(datum.value)/LN10)) < 0.001","value":-7},"value":-3.5},"title":null}},"x2":{"field":"x2"},"y":{"field":"eta","type":"quantitative","scale":{"type":"log","domain":[0.0001,100000],"nice":false},"axis":null}}},
{"data":{"name":"arr"},"transform":[{"filter":"datum.p == 'c'"}],"mark":{"type":"rule","strokeWidth":1.3,"color":"#111"},"encoding":{"x":{"field":"x","type":"quantitative","scale":{"type":"log","domain":[0.0001,10000000],"nice":false},"axis":null},"x2":{"field":"x2"},"y":{"field":"y","type":"quantitative","scale":{"type":"log","domain":[0.0001,100000],"nice":false},"axis":{"orient":"right","values":[0.0001,0.0002,0.0003,0.0004,0.0005,0.0006,0.0007,0.0008,0.0009,0.001,0.002,0.003,0.004,0.005,0.006,0.007,0.008,0.009,0.01,0.02,0.03,0.04,0.05,0.06,0.07,0.08,0.09,0.1,0.2,0.3,0.4,0.5,0.6,0.7,0.8,0.9,1,2,3,4,5,6,7,8,9,10,20,30,40,50,60,70,80,90,100,200,300,400,500,600,700,800,900,1000,2000,3000,4000,5000,6000,7000,8000,9000,10000,20000,30000,40000,50000,60000,70000,80000,90000,100000],"labels":false,"tickSize":{"condition":{"test":"abs(log(datum.value)/LN10 - round(log(datum.value)/LN10)) < 0.001","value":-7},"value":-3.5},"title":null}},"y2":{"field":"y2"}}},
{"data":{"name":"arr"},"transform":[{"filter":"datum.p == 'c'"}],"mark":{"type":"point","shape":"triangle-down","filled":true,"color":"#111","size":45,"angle":336.6,"opacity":1},"encoding":{"x":{"field":"x2","type":"quantitative","scale":{"type":"log","domain":[0.0001,10000000],"nice":false},"axis":null},"y":{"field":"y2","type":"quantitative","scale":{"type":"log","domain":[0.0001,100000],"nice":false},"axis":null}}},
{"data":{"name":"ann"},"transform":[{"filter":"datum.p == 'c' && datum.k == 'name'"}],"mark":{"type":"text","font":"Liberation Serif","fontSize":27,"align":"center","baseline":"alphabetic","color":"#111"},"encoding":{"x":{"field":"x","type":"quantitative","scale":{"type":"log","domain":[0.0001,10000000],"nice":false},"axis":null},"y":{"field":"y","type":"quantitative","scale":{"type":"log","domain":[0.0001,100000],"nice":false},"axis":null},"text":{"field":"t"}}},
{"data":{"name":"ann"},"transform":[{"filter":"datum.p == 'c' && datum.k != 'name'"}],"mark":{"type":"text","text":"η","font":"Liberation Serif","fontStyle":"italic","fontSize":27,"align":"right","baseline":"alphabetic","color":"#111"},"encoding":{"x":{"field":"x","type":"quantitative","scale":{"type":"log","domain":[0.0001,10000000],"nice":false},"axis":null},"y":{"field":"y","type":"quantitative","scale":{"type":"log","domain":[0.0001,100000],"nice":false},"axis":null}}},
{"data":{"name":"ann"},"transform":[{"filter":"datum.p == 'c' && datum.k == 'inf'"}],"mark":{"type":"text","text":"∞","font":"Liberation Serif","fontSize":11,"align":"left","baseline":"alphabetic","dx":1,"dy":4,"color":"#111"},"encoding":{"x":{"field":"x","type":"quantitative","scale":{"type":"log","domain":[0.0001,10000000],"nice":false},"axis":null},"y":{"field":"y","type":"quantitative","scale":{"type":"log","domain":[0.0001,100000],"nice":false},"axis":null}}},
{"data":{"name":"ann"},"transform":[{"filter":"datum.p == 'c' && datum.k == 'inf'"}],"mark":{"type":"text","font":"Liberation Serif","fontSize":23,"align":"left","baseline":"alphabetic","dx":12,"color":"#111"},"encoding":{"x":{"field":"x","type":"quantitative","scale":{"type":"log","domain":[0.0001,10000000],"nice":false},"axis":null},"y":{"field":"y","type":"quantitative","scale":{"type":"log","domain":[0.0001,100000],"nice":false},"axis":null},"text":{"field":"t"}}},
{"data":{"name":"ann"},"transform":[{"filter":"datum.p == 'c' && datum.k == 'eta'"}],"mark":{"type":"text","font":"Liberation Serif","fontSize":23,"align":"left","baseline":"alphabetic","dx":3,"color":"#111"},"encoding":{"x":{"field":"x","type":"quantitative","scale":{"type":"log","domain":[0.0001,10000000],"nice":false},"axis":null},"y":{"field":"y","type":"quantitative","scale":{"type":"log","domain":[0.0001,100000],"nice":false},"axis":null},"text":{"field":"t"}}}
]},
{"width":384,"height":295,
"title":{"text":"d.)\u00a0\u00a0\u00a0TF4\u00a0\u00a0Ethanol/Methocel gel","orient":"bottom","anchor":"start","frame":"group","dx":-50,"offset":30,"font":"Liberation Sans, sans-serif","fontSize":25,"fontWeight":"normal","color":"#111"},
"resolve":{"axis":{"x":"independent","y":"independent"}},
"layer":[
{"data":{"name":"ref"},"transform":[{"filter":"datum.p == 'd'"}],"mark":{"type":"rule","strokeDash":[12,4,2,4],"strokeWidth":1.8,"color":"#111"},"encoding":{"y":{"field":"eta","type":"quantitative","scale":{"type":"log","domain":[0.0001,100000],"nice":false},"axis":{"orient":"left","values":[0.0001,0.0002,0.0003,0.0004,0.0005,0.0006,0.0007,0.0008,0.0009,0.001,0.002,0.003,0.004,0.005,0.006,0.007,0.008,0.009,0.01,0.02,0.03,0.04,0.05,0.06,0.07,0.08,0.09,0.1,0.2,0.3,0.4,0.5,0.6,0.7,0.8,0.9,1,2,3,4,5,6,7,8,9,10,20,30,40,50,60,70,80,90,100,200,300,400,500,600,700,800,900,1000,2000,3000,4000,5000,6000,7000,8000,9000,10000,20000,30000,40000,50000,60000,70000,80000,90000,100000],"labelExpr":"datum.value == 0.0001 ? '10⁻⁴' : datum.value == 0.01 ? '10⁻²' : datum.value == 1 ? '10⁰' : datum.value == 100 ? '10²' : datum.value == 10000 ? '10⁴' : datum.value == 1000000 ? '10⁶' : ''","labelFontSize":{"condition":{"test":"datum.value == 0.0001 || datum.value == 0.01 || datum.value == 1 || datum.value == 100 || datum.value == 10000 || datum.value == 1000000","value":32},"value":1},"tickSize":{"condition":{"test":"abs(log(datum.value)/LN10 - round(log(datum.value)/LN10)) < 0.001","value":-7},"value":-3.5},"labelPadding":9,"title":"η\u00a0\u00a0[Pa·s]","titlePadding":7}}}},
{"data":{"name":"pts"},"transform":[{"filter":"datum.p == 'd'"}],"mark":{"type":"point","filled":true,"stroke":"#111","strokeWidth":1.6,"size":235,"opacity":1},"encoding":{"x":{"field":"x","type":"quantitative","scale":{"type":"log","domain":[0.0001,10000000],"nice":false},"axis":{"orient":"bottom","values":[0.0001,0.0002,0.0003,0.0004,0.0005,0.0006,0.0007,0.0008,0.0009,0.001,0.002,0.003,0.004,0.005,0.006,0.007,0.008,0.009,0.01,0.02,0.03,0.04,0.05,0.06,0.07,0.08,0.09,0.1,0.2,0.3,0.4,0.5,0.6,0.7,0.8,0.9,1,2,3,4,5,6,7,8,9,10,20,30,40,50,60,70,80,90,100,200,300,400,500,600,700,800,900,1000,2000,3000,4000,5000,6000,7000,8000,9000,10000,20000,30000,40000,50000,60000,70000,80000,90000,100000,200000,300000,400000,500000,600000,700000,800000,900000,1000000,2000000,3000000,4000000,5000000,6000000,7000000,8000000,9000000,10000000],"labelExpr":"datum.value == 0.0001 ? '10⁻⁴' : datum.value == 0.01 ? '10⁻²' : datum.value == 1 ? '10⁰' : datum.value == 100 ? '10²' : datum.value == 10000 ? '10⁴' : datum.value == 1000000 ? '10⁶' : ''","labelFontSize":{"condition":{"test":"datum.value == 0.0001 || datum.value == 0.01 || datum.value == 1 || datum.value == 100 || datum.value == 10000 || datum.value == 1000000","value":32},"value":1},"tickSize":{"condition":{"test":"abs(log(datum.value)/LN10 - round(log(datum.value)/LN10)) < 0.001","value":-7},"value":-3.5},"labelPadding":16,"title":"γ\u0307w\u00a0\u00a0[1/s]","titlePadding":17}},"y":{"field":"y","type":"quantitative","scale":{"type":"log","domain":[0.0001,100000],"nice":false},"axis":null},"fill":{"field":"m","type":"nominal","scale":{"domain":["Rot.-Rheom.","Kap.-Rheom."],"range":["#bdbdbd","#ffffff"]},"legend":{"orient":"top-right","offset":14}}}},
{"data":{"name":"inf"},"transform":[{"filter":"datum.p == 'd'"}],"mark":{"type":"rule","strokeWidth":3,"strokeDash":[7,5],"color":"#111"},"encoding":{"x":{"field":"x","type":"quantitative","scale":{"type":"log","domain":[0.0001,10000000],"nice":false},"axis":{"orient":"top","values":[0.0001,0.0002,0.0003,0.0004,0.0005,0.0006,0.0007,0.0008,0.0009,0.001,0.002,0.003,0.004,0.005,0.006,0.007,0.008,0.009,0.01,0.02,0.03,0.04,0.05,0.06,0.07,0.08,0.09,0.1,0.2,0.3,0.4,0.5,0.6,0.7,0.8,0.9,1,2,3,4,5,6,7,8,9,10,20,30,40,50,60,70,80,90,100,200,300,400,500,600,700,800,900,1000,2000,3000,4000,5000,6000,7000,8000,9000,10000,20000,30000,40000,50000,60000,70000,80000,90000,100000,200000,300000,400000,500000,600000,700000,800000,900000,1000000,2000000,3000000,4000000,5000000,6000000,7000000,8000000,9000000,10000000],"labels":false,"tickSize":{"condition":{"test":"abs(log(datum.value)/LN10 - round(log(datum.value)/LN10)) < 0.001","value":-7},"value":-3.5},"title":null}},"x2":{"field":"x2"},"y":{"field":"eta","type":"quantitative","scale":{"type":"log","domain":[0.0001,100000],"nice":false},"axis":null}}},
{"data":{"name":"arr"},"transform":[{"filter":"datum.p == 'd'"}],"mark":{"type":"rule","strokeWidth":1.3,"color":"#111"},"encoding":{"x":{"field":"x","type":"quantitative","scale":{"type":"log","domain":[0.0001,10000000],"nice":false},"axis":null},"x2":{"field":"x2"},"y":{"field":"y","type":"quantitative","scale":{"type":"log","domain":[0.0001,100000],"nice":false},"axis":{"orient":"right","values":[0.0001,0.0002,0.0003,0.0004,0.0005,0.0006,0.0007,0.0008,0.0009,0.001,0.002,0.003,0.004,0.005,0.006,0.007,0.008,0.009,0.01,0.02,0.03,0.04,0.05,0.06,0.07,0.08,0.09,0.1,0.2,0.3,0.4,0.5,0.6,0.7,0.8,0.9,1,2,3,4,5,6,7,8,9,10,20,30,40,50,60,70,80,90,100,200,300,400,500,600,700,800,900,1000,2000,3000,4000,5000,6000,7000,8000,9000,10000,20000,30000,40000,50000,60000,70000,80000,90000,100000],"labels":false,"tickSize":{"condition":{"test":"abs(log(datum.value)/LN10 - round(log(datum.value)/LN10)) < 0.001","value":-7},"value":-3.5},"title":null}},"y2":{"field":"y2"}}},
{"data":{"name":"arr"},"transform":[{"filter":"datum.p == 'd'"}],"mark":{"type":"point","shape":"triangle-down","filled":true,"color":"#111","size":45,"angle":337.3,"opacity":1},"encoding":{"x":{"field":"x2","type":"quantitative","scale":{"type":"log","domain":[0.0001,10000000],"nice":false},"axis":null},"y":{"field":"y2","type":"quantitative","scale":{"type":"log","domain":[0.0001,100000],"nice":false},"axis":null}}},
{"data":{"name":"ann"},"transform":[{"filter":"datum.p == 'd' && datum.k == 'name'"}],"mark":{"type":"text","font":"Liberation Serif","fontSize":27,"align":"center","baseline":"alphabetic","color":"#111"},"encoding":{"x":{"field":"x","type":"quantitative","scale":{"type":"log","domain":[0.0001,10000000],"nice":false},"axis":null},"y":{"field":"y","type":"quantitative","scale":{"type":"log","domain":[0.0001,100000],"nice":false},"axis":null},"text":{"field":"t"}}},
{"data":{"name":"ann"},"transform":[{"filter":"datum.p == 'd' && datum.k != 'name'"}],"mark":{"type":"text","text":"η","font":"Liberation Serif","fontStyle":"italic","fontSize":27,"align":"right","baseline":"alphabetic","color":"#111"},"encoding":{"x":{"field":"x","type":"quantitative","scale":{"type":"log","domain":[0.0001,10000000],"nice":false},"axis":null},"y":{"field":"y","type":"quantitative","scale":{"type":"log","domain":[0.0001,100000],"nice":false},"axis":null}}},
{"data":{"name":"ann"},"transform":[{"filter":"datum.p == 'd' && datum.k == 'inf'"}],"mark":{"type":"text","text":"∞","font":"Liberation Serif","fontSize":11,"align":"left","baseline":"alphabetic","dx":1,"dy":4,"color":"#111"},"encoding":{"x":{"field":"x","type":"quantitative","scale":{"type":"log","domain":[0.0001,10000000],"nice":false},"axis":null},"y":{"field":"y","type":"quantitative","scale":{"type":"log","domain":[0.0001,100000],"nice":false},"axis":null}}},
{"data":{"name":"ann"},"transform":[{"filter":"datum.p == 'd' && datum.k == 'inf'"}],"mark":{"type":"text","font":"Liberation Serif","fontSize":23,"align":"left","baseline":"alphabetic","dx":12,"color":"#111"},"encoding":{"x":{"field":"x","type":"quantitative","scale":{"type":"log","domain":[0.0001,10000000],"nice":false},"axis":null},"y":{"field":"y","type":"quantitative","scale":{"type":"log","domain":[0.0001,100000],"nice":false},"axis":null},"text":{"field":"t"}}},
{"data":{"name":"ann"},"transform":[{"filter":"datum.p == 'd' && datum.k == 'eta'"}],"mark":{"type":"text","font":"Liberation Serif","fontSize":23,"align":"left","baseline":"alphabetic","dx":3,"color":"#111"},"encoding":{"x":{"field":"x","type":"quantitative","scale":{"type":"log","domain":[0.0001,10000000],"nice":false},"axis":null},"y":{"field":"y","type":"quantitative","scale":{"type":"log","domain":[0.0001,100000],"nice":false},"axis":null},"text":{"field":"t"}}}
]}
],
"config":{
"view":{"stroke":"#222","strokeWidth":1.3},
"axis":{"domain":false,"grid":false,"tickColor":"#333","tickWidth":1,"labelFont":"Liberation Sans, sans-serif","labelColor":"#111","labelFlush":false,"labelOverlap":false,"labelBound":false,"titleFont":"Liberation Serif","titleFontSize":30,"titleFontWeight":"normal","titleColor":"#111"},
"legend":{"title":null,"padding":0,"symbolType":"circle","symbolSize":230,"symbolStrokeColor":"#111","symbolStrokeWidth":1.6,"symbolOpacity":1,"labelFont":"Liberation Serif","labelFontSize":28,"labelColor":"#111","labelOffset":28,"rowPadding":9,"labelLimit":400}
}
}
